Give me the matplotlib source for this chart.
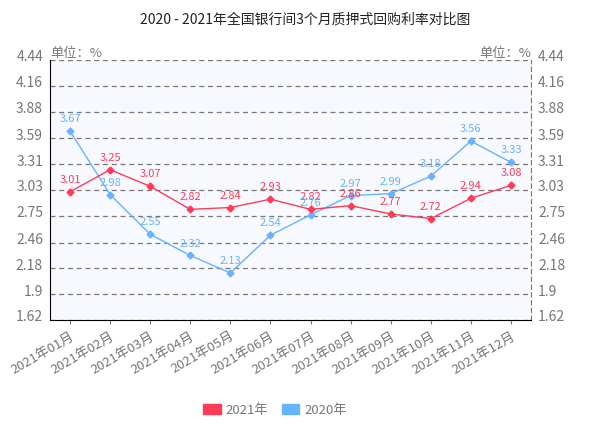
import matplotlib.pyplot as plt
import matplotlib.transforms as mtransforms
from matplotlib.patches import Patch

plt.rcParams['font.family'] = ['Noto Sans CJK SC', 'DejaVu Sans']

months = ['2021年01月', '2021年02月', '2021年03月', '2021年04月', '2021年05月', '2021年06月',
          '2021年07月', '2021年08月', '2021年09月', '2021年10月', '2021年11月', '2021年12月']
rate_2021 = [3.01, 3.25, 3.07, 2.82, 2.84, 2.93, 2.82, 2.86, 2.77, 2.72, 2.94, 3.08]
rate_2020 = [3.67, 2.98, 2.55, 2.32, 2.13, 2.54, 2.76, 2.97, 2.99, 3.18, 3.56, 3.33]
yticks = [1.62, 1.9, 2.18, 2.46, 2.75, 3.03, 3.31, 3.59, 3.88, 4.16, 4.44]

red = '#ff3b57'
blue = '#66b3ff'
gray = '#777777'

fig = plt.figure(figsize=(6.1, 4.36), dpi=100)
ax = fig.add_axes([50 / 610, 1 - 320 / 436, 481 / 610, 260 / 436])
ax.set_facecolor('#f8f9ff')

x = list(range(len(months)))
ax.plot(x, rate_2020, color=blue, lw=1, marker='D', ms=3.5, zorder=3)
ax.plot(x, rate_2021, color=red, lw=1, marker='D', ms=3.5, zorder=3)
for i in x:
    ax.annotate(f'{rate_2021[i]:g}', (i, rate_2021[i]), xytext=(0, 5), textcoords='offset points',
                ha='center', va='bottom', color=red, fontsize=8, zorder=4)
    ax.annotate(f'{rate_2020[i]:g}', (i, rate_2020[i]), xytext=(0, 5), textcoords='offset points',
                ha='center', va='bottom', color=blue, fontsize=8, zorder=4)

ax.set_xlim(-0.5, len(months) - 0.5)
ax.set_ylim(yticks[0], yticks[-1])
ax.set_yticks(yticks)
ax.set_yticklabels([f'{v:g}' for v in yticks])
ax.tick_params(axis='y', length=0, colors=gray, labelsize=10, pad=5,
               labelleft=True, labelright=True)
ax.grid(axis='y', color='#777777', ls=(0, (4, 3)), lw=0.9)
# labels sit a little above their grid lines
off = mtransforms.ScaledTranslation(0, 3 / 72, fig.dpi_scale_trans)
for t in ax.yaxis.get_major_ticks():
    t.label1.set_transform(t.label1.get_transform() + off)
    t.label2.set_transform(t.label2.get_transform() + off)

ax.set_xticks(x)
ax.set_xticklabels(months, rotation=30, ha='right', rotation_mode='anchor')
ax.tick_params(axis='x', length=3, color=gray, colors=gray, labelsize=9.5, pad=4)

ax.spines['top'].set_visible(False)
ax.spines['right'].set_color(gray)
ax.spines['right'].set_linestyle((0, (4, 3)))
ax.spines['left'].set_color('black')
ax.spines['bottom'].set_color('black')

ax.text(0.0, 1.0, '单位：%', transform=ax.transAxes, ha='left', va='bottom',
        color=gray, fontsize=9.5)
ax.text(1.0, 1.0, '单位：%', transform=ax.transAxes, ha='right', va='bottom',
        color=gray, fontsize=9.5)

fig.text(0.5, 1 - 20 / 436, '2020 - 2021年全国银行间3个月质押式回购利率对比图',
         ha='center', va='center', fontsize=10, color='#222222')

handles = [Patch(color=red, label='2021年'), Patch(color=blue, label='2020年')]
fig.legend(handles=handles, loc='center', bbox_to_anchor=(275 / 610, 1 - 410 / 436), ncol=2,
           frameon=False, fontsize=9.5, labelcolor=gray, handlelength=1.3, handleheight=0.7,
           columnspacing=1.0, handletextpad=0.4)

fig.savefig('out.png', dpi=100)
